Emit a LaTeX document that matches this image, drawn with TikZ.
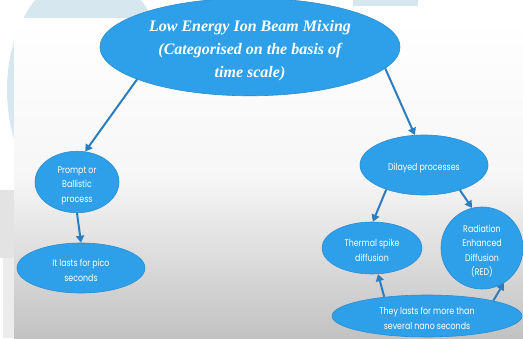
\documentclass[tikz,border=0pt]{standalone}
\usepackage{fontspec}
\setmainfont{Liberation Serif}
\newfontfamily\gothic[FakeStretch=0.82]{Poppins}
\usetikzlibrary{shapes.geometric,arrows.meta}
\definecolor{ellfill}{HTML}{2EA0EA}
\definecolor{elldraw}{HTML}{2A8CCF}
\definecolor{arrowcol}{HTML}{2C7DC0}
\definecolor{paleblue}{HTML}{D6E7F0}
\newcommand\shiftdown[1]{\raisebox{-3pt}[\height][\depth]{\begin{tabular}{@{}c@{}}#1\end{tabular}}}
\tikzset{
  bubble/.style={ellipse, fill=ellfill, draw=elldraw, line width=0.6pt, inner sep=0pt,
    text=white, align=center, font=\gothic\fontsize{9.6}{14.5}\selectfont},
  conn/.style={draw=arrowcol, line width=2pt, -{Triangle[length=7pt,width=8pt]}},
}
\begin{document}
\begin{tikzpicture}[x=1pt,y=-1pt]
\useasboundingbox (0,0) rectangle (523,338);
% background decorations
\fill[white] (0,0) rectangle (523,338);
\fill[paleblue] (88,90) ellipse [x radius=81, y radius=119];
\fill[gray!28] (204,0) rectangle (268,5);
\fill[paleblue] (353,0) rectangle (418,6);
\fill[gray!22] (0,190) rectangle (14,258);
\fill[gray!15] (3,258) rectangle (14,338);
\shade[top color=white, bottom color=gray!48, middle color=white!93!gray] (14,18) rectangle (523,338);
% nodes
\node[bubble, minimum width=300pt, minimum height=80pt,
  font=\bfseries\itshape\fontsize{16}{23}\selectfont] (top) at (250,47)
  {\shiftdown{Low Energy Ion Beam Mixing\\(Categorised on the basis of\\time scale)}};
\node[bubble, minimum width=84pt, minimum height=60pt] (prompt) at (77,182) {\shiftdown{Prompt or\\Ballistic\\process}};
\node[bubble, minimum width=128pt, minimum height=50pt] (pico) at (81,268) {\shiftdown{It lasts for pico\\seconds}};
\node[bubble, minimum width=128pt, minimum height=60pt] (delay) at (424,165) {\shiftdown{Dilayed processes}};
\node[bubble, minimum width=100pt, minimum height=52pt] (thermal) at (372,248) {\shiftdown{Thermal spike\\diffusion}};
\node[bubble, minimum width=82pt, minimum height=68pt] (red) at (482,248) {\shiftdown{Radiation\\Enhanced\\Diffusion\\(RED)}};
\node[bubble, minimum width=190pt, minimum height=42pt] (nano) at (427,316) {\shiftdown{They lasts for more than\\several nano seconds}};
% connectors
\draw[conn] (top.196) -- (prompt.75);
\draw[conn] (top.-9) -- (delay.107);
\draw[conn] (prompt.south) -- (pico.north);
\draw[conn] (delay.213) -- (thermal.88);
\draw[conn] (delay.325) -- (red.104);
\draw[conn] (nano.156) -- (thermal.-77);
\draw[conn] (nano.13) -- (red.-58);
\end{tikzpicture}
\end{document}
